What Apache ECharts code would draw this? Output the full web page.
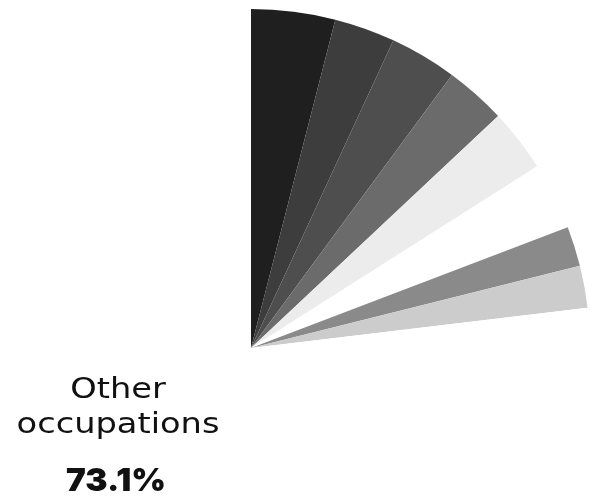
<!DOCTYPE html>
<html>
<head>
<meta charset="utf-8">
<script src="https://cdn.jsdelivr.net/npm/echarts@6/dist/echarts.min.js"></script>
<style>html,body{margin:0;padding:0;background:#fff;}#c{width:597px;height:496px;}</style>
</head>
<body>
<div id="c"></div>
<script>
var categories = ['Occupation 1','Occupation 2','Occupation 3','Occupation 4','Occupation 5','Occupation 6','Occupation 7','Occupation 8','Occupation 9','Other occupations'];
var shares = [4.0, 2.9, 3.2, 2.9, 3.0, 3.2, 1.9, 2.0, 3.8, 73.1];
var sliceColors = ['#1f1f1f','#3d3d3d','#4e4e4e','#6b6b6b','#ececec','#ffffff','#8a8a8a','#cccccc','#ffffff','#ffffff'];

var chart = echarts.init(document.getElementById('c'));
var otherIdx = categories.length - 1;
var otherWords = categories[otherIdx].split(' ');
chart.setOption({
  backgroundColor: '#ffffff',
  animation: false,
  series: [{
    type: 'pie',
    center: [251, 348],
    radius: [0, 339],
    startAngle: 90,
    clockwise: true,
    silent: true,
    label: {show: false},
    labelLine: {show: false},
    itemStyle: {borderWidth: 0},
    data: categories.map(function (c, i) {
      return {name: c, value: shares[i], itemStyle: {color: sliceColors[i]}};
    })
  }],
  graphic: {
    elements: [
      {type: 'text', x: 118, y: 405, scaleX: 1.16, z: 100, style: {text: otherWords[0], fontSize: 29, fontFamily: 'DejaVu Sans', fontWeight: 'normal', fill: '#111111', align: 'center', verticalAlign: 'bottom'}},
      {type: 'text', x: 118, y: 440, scaleX: 1.16, z: 100, style: {text: otherWords[1], fontSize: 29, fontFamily: 'DejaVu Sans', fontWeight: 'normal', fill: '#111111', align: 'center', verticalAlign: 'bottom'}},
      {type: 'text', x: 116, y: 497, scaleX: 1.04, z: 100, style: {text: shares[otherIdx].toFixed(1) + '%', fontSize: 32, fontFamily: 'Inter', fontWeight: 900, fill: '#111111', align: 'center', verticalAlign: 'bottom'}}
    ]
  }
});
</script>
</body>
</html>
